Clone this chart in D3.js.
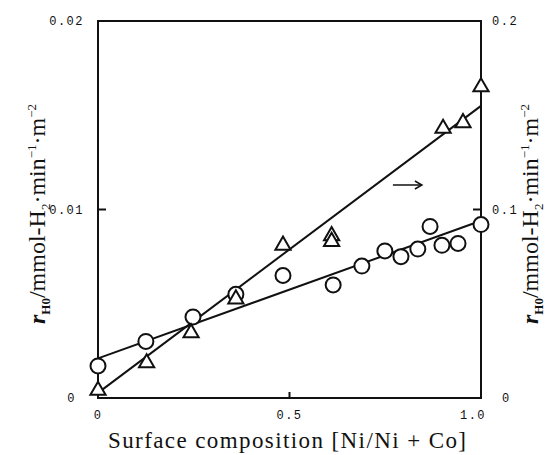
<!DOCTYPE html>
<html>
<head>
<meta charset="utf-8">
<script src="https://cdn.jsdelivr.net/npm/d3@7"></script>
<style>
  body { margin: 0; background: #fff; }
  svg text { fill: #111; }
</style>
</head>
<body>
<svg id="chart" width="555" height="455"></svg>
<script>
// circles -> left axis
const circleX = [0, 0.125, 0.248, 0.36, 0.483, 0.614, 0.689, 0.749, 0.791, 0.835, 0.867, 0.898, 0.94, 1.0];
const circleY = [0.0017, 0.0030, 0.0043, 0.0055, 0.0065, 0.0060, 0.0070, 0.0078, 0.0075, 0.0079, 0.0091, 0.0081, 0.0082, 0.0092];
// triangles -> right axis
const triX = [0, 0.127, 0.243, 0.36, 0.483, 0.61, 0.61, 0.901, 0.953, 1.0];
const triY = [0.004, 0.0186, 0.0345, 0.0525, 0.081, 0.086, 0.083, 0.143, 0.146, 0.165];
// fitted lines (end points)
const circleFit = [[0, 0.0021], [1, 0.0094]];
const triFit = [[0, 0.0027], [1, 0.155]];

const xTicks = [0, 0.5, 1.0];
const xTickLabels = ["0", "0.5", "1.0"];
const leftTicks = [0, 0.01, 0.02];
const leftTickLabels = ["0", "0.01", "0.02"];
const rightTicks = [0, 0.1, 0.2];
const rightTickLabels = ["0", "0.1", "0.2"];

const svg = d3.select("#chart");

const x = d3.scaleLinear().domain([0, 1]).range([98, 481]);
const yL = d3.scaleLinear().domain([0, 0.02]).range([398, 21]);
const yR = d3.scaleLinear().domain([0, 0.2]).range([398, 21]);

// frame
svg.append("rect")
  .attr("x", x(0)).attr("y", yL(0.02))
  .attr("width", x(1) - x(0)).attr("height", yL(0) - yL(0.02))
  .attr("fill", "none").attr("stroke", "#111").attr("stroke-width", 2);

// ticks (inward)
svg.append("line").attr("x1", x(0)).attr("x2", x(0) + 8)
  .attr("y1", yL(0.01)).attr("y2", yL(0.01)).attr("stroke", "#111").attr("stroke-width", 2);
svg.append("line").attr("x1", x(1)).attr("x2", x(1) - 8)
  .attr("y1", yR(0.1)).attr("y2", yR(0.1)).attr("stroke", "#111").attr("stroke-width", 2);
svg.append("line").attr("x1", x(0.5)).attr("x2", x(0.5))
  .attr("y1", yL(0)).attr("y2", yL(0) - 6).attr("stroke", "#111").attr("stroke-width", 2);

const mono = "'Liberation Mono', 'DejaVu Sans Mono', monospace";

// tick labels
function tickText(sel) {
  sel.style("font-family", mono).style("font-size", "12px").style("letter-spacing", "1.5px");
}
svg.selectAll(".xlab").data(xTicks).join("text").attr("class", "xlab")
  .attr("x", (d, i) => x(d) + (i == 2 ? -8 : 0)).attr("y", 419)
  .attr("text-anchor", "middle").call(tickText)
  .text((d, i) => xTickLabels[i]);

svg.selectAll(".llab").data(leftTicks).join("text").attr("class", "llab")
  .attr("x", (d, i) => i == 0 ? 76 : 84).attr("y", d => yL(d) + 4)
  .attr("text-anchor", "end").call(tickText)
  .text((d, i) => leftTickLabels[i]);

svg.selectAll(".rlab").data(rightTicks).join("text").attr("class", "rlab")
  .attr("x", (d, i) => i == 0 ? 502 : 492).attr("y", d => yR(d) + 4)
  .attr("text-anchor", "start").call(tickText)
  .text((d, i) => rightTickLabels[i]);

// fit lines
const line = d3.line();
svg.append("path")
  .attr("d", line(circleFit.map(d => [x(d[0]), yL(d[1])])))
  .attr("fill", "none").attr("stroke", "#111").attr("stroke-width", 2);
svg.append("path")
  .attr("d", line(triFit.map(d => [x(d[0]), yR(d[1])])))
  .attr("fill", "none").attr("stroke", "#111").attr("stroke-width", 2);

// markers
svg.selectAll(".circ").data(circleX).join("circle").attr("class", "circ")
  .attr("cx", d => x(d)).attr("cy", (d, i) => yL(circleY[i]))
  .attr("r", 7.5).attr("fill", "#fff").attr("stroke", "#111").attr("stroke-width", 2);

const tri = d3.symbol().type(d3.symbolTriangle).size(100);
svg.selectAll(".tri").data(triX).join("path").attr("class", "tri")
  .attr("d", tri)
  .attr("transform", (d, i) => `translate(${x(d)},${yR(triY[i])})`)
  .attr("fill", "#fff").attr("stroke", "#111").attr("stroke-width", 2);

// arrow indicating right axis
const ax = x(0.77), ay = yR(0.113);
svg.append("line").attr("x1", ax).attr("x2", ax + 28).attr("y1", ay).attr("y2", ay)
  .attr("stroke", "#111").attr("stroke-width", 1.5);
svg.append("path").attr("d", `M${ax + 22},${ay - 4} L${ax + 29},${ay} L${ax + 22},${ay + 4}`)
  .attr("fill", "none").attr("stroke", "#111").attr("stroke-width", 1.5);

// axis titles
const serif = "'Liberation Serif', 'DejaVu Serif', serif";
svg.append("text").attr("x", 108).attr("y", 448)
  .attr("textLength", 358).attr("lengthAdjust", "spacing")
  .style("font-family", serif).style("font-size", "23px")
  .text("Surface composition [Ni/Ni + Co]");

function yTitle(cx) {
  const t = svg.append("text")
    .attr("transform", `translate(${cx},214) rotate(-90)`)
    .attr("text-anchor", "middle")
    .style("font-family", serif).style("font-size", "24px");
  t.append("tspan").style("font-style", "italic").style("font-weight", "bold").text("r");
  t.append("tspan").attr("dy", 5).style("font-size", "13px").style("font-weight", "bold").text("H0");
  t.append("tspan").attr("dy", -5).text("/mmol-H");
  t.append("tspan").attr("dy", 5).style("font-size", "13px").text("2");
  t.append("tspan").attr("dy", -5).text("·min");
  t.append("tspan").attr("dy", -9).style("font-size", "13px").text("−1");
  t.append("tspan").attr("dy", 9).text("·m");
  t.append("tspan").attr("dy", -9).style("font-size", "13px").text("−2");
}
yTitle(45);
yTitle(538);
</script>
</body>
</html>
